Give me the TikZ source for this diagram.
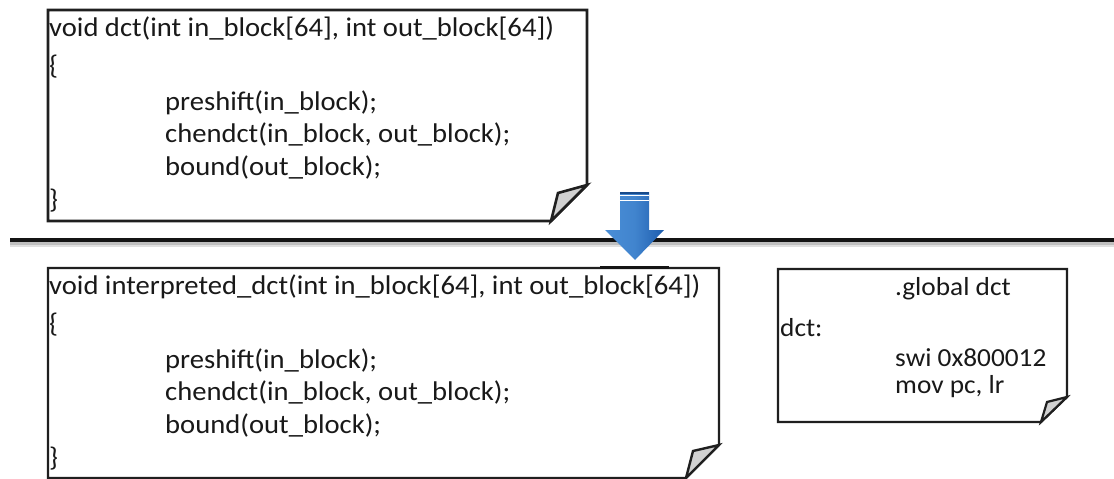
\documentclass[tikz,border=0pt]{standalone}
\usepackage{fontspec}
\setmainfont{Carlito}[FakeStretch=1.06]
\newfontfamily\asmfont{Carlito}[FakeStretch=1.05]
\begin{document}
\begin{tikzpicture}[x=1pt,y=-1pt,
  notebox/.style={draw=black!88,line width=2.6pt,fill=white,line join=miter},
  noteflap/.style={draw=black!88,line width=2.6pt,fill=black!18,line join=miter},
  codeline/.style={anchor=base west,inner sep=0pt,text=black!90,font=\fontsize{27}{32}\selectfont},
  asmline/.style={anchor=base west,inner sep=0pt,text=black!90,font=\asmfont\fontsize{26}{31}\selectfont}]
\useasboundingbox (0,0) rectangle (1114,479);

% separator with soft shadow
\draw[line width=3pt,black!25] (10,243.5) -- (1114,243.5);
\draw[line width=1.5pt,black!12] (10,246) -- (1114,246);
\draw[line width=3.6pt,black!92] (10,240) -- (1114,240);

% source note
\draw[notebox] (48,10) -- (587,10) -- (587,185) -- (551,221) -- (48,221) -- cycle;
\draw[noteflap] (587,185) -- (558,193) -- (551,221) -- cycle;
\node[codeline] (s1) at (49,36)  {void dct(int in\_block[64], int out\_block[64])};
\node[codeline] (s2) at (49,74)  {\{};
\node[codeline] (s3) at (165,110) {preshift(in\_block);};
\node[codeline] (s4) at (165,142) {chendct(in\_block, out\_block);};
\node[codeline] (s5) at (165,175) {bound(out\_block);};
\node[codeline] (s6) at (49,208) {\}};

% interpreted note
\draw[notebox,line width=2.2pt] (48,268) -- (719,268) -- (719,445) -- (686,478) -- (48,478) -- cycle;
\draw[noteflap,line width=2.4pt] (719,445) -- (693,451) -- (686,478) -- cycle;
\draw[line width=3.4pt,black!92] (600,267.5) -- (669,267.5);
\node[codeline] (i1) at (49,294)  {void interpreted\_dct(int in\_block[64], int out\_block[64])};
\node[codeline] (i2) at (49,332)  {\{};
\node[codeline] (i3) at (165,368) {preshift(in\_block);};
\node[codeline] (i4) at (165,400) {chendct(in\_block, out\_block);};
\node[codeline] (i5) at (165,433) {bound(out\_block);};
\node[codeline] (i6) at (49,466) {\}};

% assembly stub note
\draw[notebox,line width=2.2pt] (778,269) -- (1067,269) -- (1067,397) -- (1041,422) -- (778,422) -- cycle;
\draw[noteflap,line width=2.2pt] (1067,397) -- (1047,402) -- (1041,422) -- cycle;
\node[asmline] (a1) at (895,295) {.global dct};
\node[asmline] (a2) at (780,336) {dct:};
\node[asmline] (a3) at (895,366) {swi 0x800012};
\node[asmline] (a4) at (895,393) {mov pc, lr};

% down arrow
\definecolor{arrL}{HTML}{4A8ED6}
\definecolor{arrR}{HTML}{1D5DAE}
\shade[left color=arrL,right color=arrR,middle color=arrL!80!arrR]
  (620,192) -- (649,192) -- (649,230) -- (664,230) -- (635,260) -- (605,230) -- (620,230) -- cycle;
\fill[arrR!80!black] (620,192) rectangle (649,193.5);
\draw[white,line width=0.8pt] (620,195) -- (649,195);
\draw[white,line width=0.8pt] (620,200.5) -- (649,200.5);
\end{tikzpicture}
\end{document}
